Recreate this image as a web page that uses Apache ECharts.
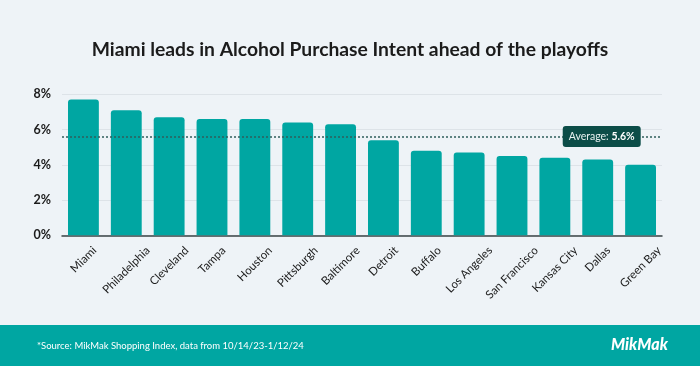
<!DOCTYPE html>
<html>
<head>
<meta charset="utf-8">
<script src="https://cdn.jsdelivr.net/npm/echarts@6/dist/echarts.min.js"></script>
<style>
html,body{margin:0;padding:0;background:#eef3f7;}
#c{width:700px;height:366px;}
</style>
</head>
<body>
<div id="c"></div>
<script>
const categories = ['Miami','Philadelphia','Cleveland','Tampa','Houston','Pittsburgh','Baltimore','Detroit','Buffalo','Los Angeles','San Francisco','Kansas City','Dallas','Green Bay'];
const values = [7.7, 7.1, 6.7, 6.6, 6.6, 6.4, 6.3, 5.4, 4.8, 4.7, 4.5, 4.4, 4.3, 4.0];
const average = 5.6;
const averageAnchor = 'Dallas';
const yTicks = [0, 2, 4, 6, 8];
const titleText = 'Miami leads in Alcohol Purchase Intent ahead of the playoffs';
const sourceText = '*Source: MikMak Shopping Index, data from 10/14/23-1/12/24';
const logoText = 'MikMak';

const labelFont = '11.5px Lato';
const measureCtx = document.createElement('canvas').getContext('2d');
measureCtx.font = labelFont;

const chart = echarts.init(document.getElementById('c'), null, {renderer:'canvas'});
chart.setOption({
  backgroundColor: '#eef3f7',
  animation: false,
  title: {
    text: titleText,
    left: 'center',
    top: 35,
    textStyle: {fontFamily: 'Lato', fontWeight: 'bold', fontSize: 19.3, color: '#1b1b1b'}
  },
  grid: {left: 62, right: 38, top: 94.3, bottom: 130.7},
  xAxis: {
    type: 'category',
    data: categories,
    axisLine: {lineStyle: {color: '#3a4446', width: 1.5}},
    axisTick: {show: false},
    axisLabel: {show: false}
  },
  yAxis: {
    type: 'value',
    min: yTicks[0], max: yTicks[yTicks.length-1], interval: 2,
    axisLine: {show: false},
    axisTick: {show: false},
    splitLine: {lineStyle: {color: '#dde3e8', width: 1}},
    axisLabel: {
      formatter: v => v + '%', margin: 11,
      fontFamily: 'Lato', fontWeight: 'bold', fontSize: 12.5, color: '#1b1b1b'
    }
  },
  series: [{
    type: 'bar',
    data: values,
    barCategoryGap: '28%',
    itemStyle: {color: '#00a6a2', borderRadius: [3,3,0,0]},
    markLine: {
      silent: true,
      symbol: 'none',
      label: {show: false},
      lineStyle: {type: [2, 2], color: '#2f5f5c', width: 1.5},
      data: [{yAxis: average}]
    },
    markPoint: {
      silent: true,
      symbol: 'rect',
      symbolSize: 0,
      data: [{coord: [averageAnchor, average]}],
      label: {
        show: true,
        position: 'inside',
        offset: [4, 0],
        formatter: () => '{n|Average: }{b|' + average + '%}',
        backgroundColor: '#0c4d48',
        borderRadius: 3,
        padding: [5, 6, 5, 6],
        rich: {
          n: {fontFamily: 'Lato', fontSize: 10.5, color: '#e8f2f1'},
          b: {fontFamily: 'Lato', fontSize: 10.5, fontWeight: 'bold', color: '#ffffff'}
        }
      }
    }
  }, {
    type: 'custom',
    silent: true,
    clip: false,
    data: categories.map((c) => [c, 0]),
    renderItem: function (params, api) {
      const idx = params.dataIndex;
      const pt = api.coord([api.value(0), 0]);
      const txt = categories[idx];
      const L = measureCtx.measureText(txt).width;
      const ext = (L + 9) * Math.SQRT1_2;
      return {
        type: 'text',
        x: pt[0],
        y: pt[1] + 10 + ext / 2,
        rotation: Math.PI / 4,
        style: {
          text: txt,
          font: labelFont,
          fill: '#1b1b1b',
          align: 'center',
          verticalAlign: 'middle'
        }
      };
    }
  }],
  graphic: [
    {type: 'rect', left: 0, top: 325, shape: {width: 700, height: 41}, style: {fill: '#00a6a2'}, z: -1},
    {type: 'text', left: 37, top: 341, style: {text: sourceText, fill: '#ffffff', font: '9.5px Lato'}},
    {type: 'text', left: 611, top: 337, style: {text: logoText, fill: '#ffffff', font: 'italic 900 16px Lato'}}
  ]
});
</script>
</body>
</html>
